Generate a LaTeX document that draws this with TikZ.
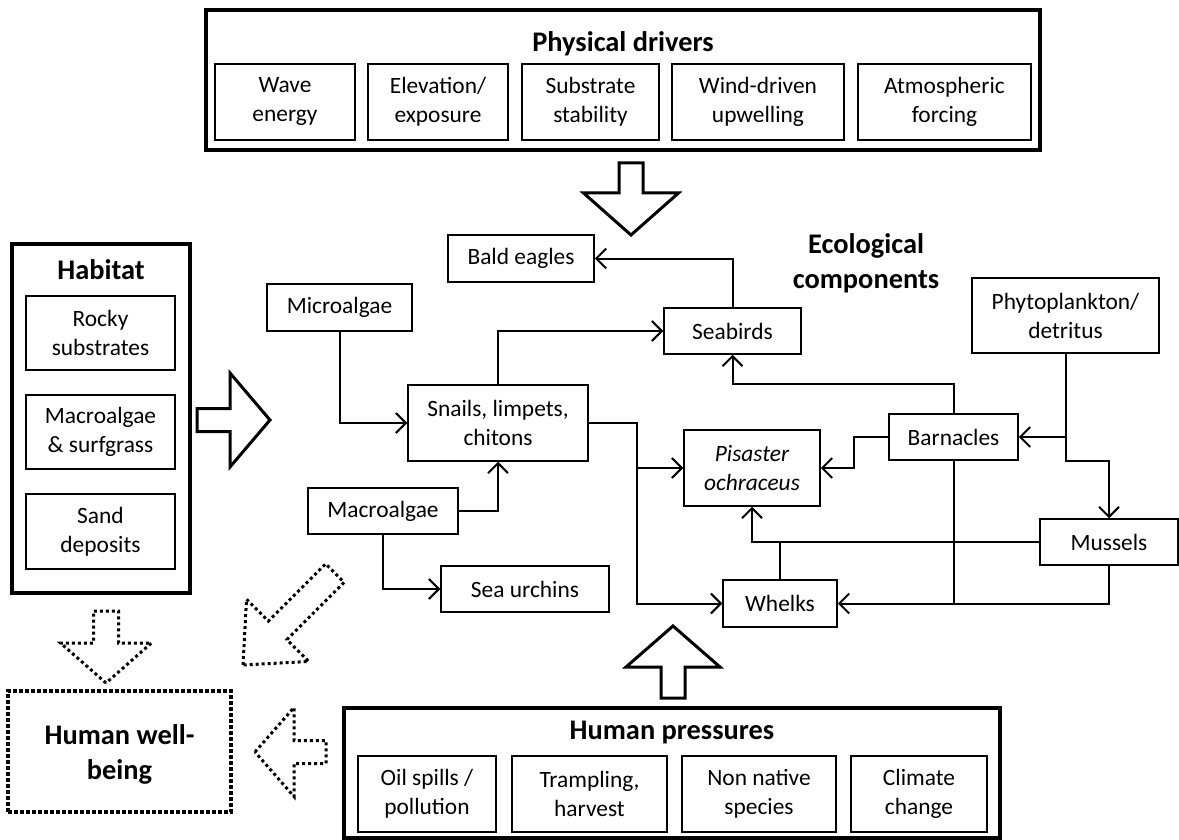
\documentclass[tikz,border=0pt]{standalone}
\usepackage{fontspec}
\setmainfont{Carlito}
\usetikzlibrary{arrows.meta}
\begin{document}
\begin{tikzpicture}[x=1pt,y=-1pt,
 box/.style={draw, line width=1.5pt, inner sep=0pt, align=center, font=\fontsize{23.4}{29}\selectfont},
 frame/.style={draw, line width=4.5pt, inner sep=0pt},
 head/.style={font=\fontsize{28.4}{35}\selectfont\bfseries, align=center, inner sep=0pt},
 link/.style={line width=2pt, -{Straight Barb[length=10pt,width=20pt,line width=2pt]}},
 plain/.style={line width=2pt},
 fat/.style={line width=3pt, line join=miter},
 dotfat/.style={line width=3pt, line join=miter, dash pattern=on 3pt off 3pt},
]
\useasboundingbox (0,0) rectangle (1179,840);

% Physical drivers
\node[frame, minimum width=834pt, minimum height=140pt] (phys) at (623,80) {};
\node[head] (physt) at (623,44) {Physical drivers};
\node[box, minimum width=140pt, minimum height=76pt] (wave) at (285,102) {Wave\\energy};
\node[box, minimum width=140pt, minimum height=76pt] (elev) at (438,102) {Elevation/\\exposure};
\node[box, minimum width=137pt, minimum height=76pt] (subs) at (590.5,102) {Substrate\\stability};
\node[box, minimum width=172pt, minimum height=76pt] (wind) at (758,102) {Wind-driven\\upwelling};
\node[box, minimum width=173pt, minimum height=76pt] (atmo) at (944.5,102) {Atmospheric\\forcing};

% Habitat
\node[frame, minimum width=178pt, minimum height=349pt] (hab) at (101,418.5) {};
\node[head] (habt) at (101,270) {Habitat};
\node[box, minimum width=149pt, minimum height=74pt] (rocky) at (100.5,333) {Rocky\\substrates};
\node[box, minimum width=149pt, minimum height=74pt] (msurf) at (100.5,432) {Macroalgae\\\& surfgrass};
\node[box, minimum width=149pt, minimum height=75pt] (sand) at (100.5,531.5) {Sand\\deposits};

% Human well-being
\node[draw, line width=4pt, dash pattern=on 4pt off 2pt, minimum width=223pt, minimum height=121pt, inner sep=0pt] (hwb) at (119.5,751.5) {};
\node[head] (hwbt) at (119.5,754) {Human well-\\being};

% Human pressures
\node[frame, minimum width=656pt, minimum height=130pt] (hp) at (672,773) {};
\node[head] (hpt) at (672,733) {Human pressures};
\node[box, minimum width=138pt, minimum height=76pt] (oil) at (427,794) {Oil spills /\\pollution};
\node[box, minimum width=155pt, minimum height=76pt] (tram) at (589.5,794) {Trampling,\\harvest};
\node[box, minimum width=154pt, minimum height=76pt] (nonn) at (759,794) {Non native\\species};
\node[box, minimum width=136pt, minimum height=76pt] (clim) at (919,794) {Climate\\change};

% Ecological components
\node[head] (ecot) at (866,263) {Ecological\\components};
\node[box, minimum width=146pt, minimum height=47pt] (bald) at (521,258.5) {Bald eagles};
\node[box, minimum width=137pt, minimum height=46pt] (seab) at (732.5,331) {Seabirds};
\node[box, minimum width=145pt, minimum height=47pt] (micro) at (339.5,307.5) {Microalgae};
\node[box, minimum width=180pt, minimum height=76pt] (snail) at (498,423) {Snails, limpets,\\chitons};
\node[box, minimum width=150pt, minimum height=46pt] (macro) at (383,511) {Macroalgae};
\node[box, minimum width=168pt, minimum height=46pt] (urch) at (525,589) {Sea urchins};
\node[box, minimum width=136pt, minimum height=76pt, font=\fontsize{23.4}{29}\selectfont\itshape] (pis) at (752,468) {Pisaster\\ochraceus};
\node[box, minimum width=129pt, minimum height=46pt] (barn) at (953.5,437) {Barnacles};
\node[box, minimum width=114pt, minimum height=47pt] (whelk) at (780,603.5) {Whelks};
\node[box, minimum width=138pt, minimum height=46pt] (muss) at (1109,542) {Mussels};
\node[box, minimum width=187pt, minimum height=75pt] (phyto) at (1065.5,315.5) {Phytoplankton/\\detritus};

\coordinate (sx) at (637,0);
\coordinate (bx) at (854,0);
\coordinate (by) at (0,384);
\coordinate (py) at (0,461);

% Connectors
\draw[link] (seab.north) |- (bald.east);
\draw[link] (snail.north) |- (seab.west);
\draw[link] (micro.south) |- (snail.west);
\draw[link] (macro.east) -| (snail.south);
\draw[link] (macro.south) |- (urch.west);
\draw[link] (snail.east) -| (sx |- pis.west) -- (pis.west);
\draw[link] (sx |- snail.east) |- (whelk.west);
\draw[link] (barn.west) -| (bx |- pis.east) -- (pis.east);
\draw[link] (barn.north) -- (barn.north |- by) -| (seab.south);
\draw[plain] (barn.south) -- (barn.south |- whelk.east);
\draw[link] (muss.south) |- (whelk.east);
\draw[link] (muss.west) -| (pis.south);
\draw[plain] (whelk.north) -- (whelk.north |- muss.west);
\draw[link] (phyto.south) |- (barn.east);
\draw[link] (phyto.south) -- (phyto.south |- py) -| (muss.north);

% Fat arrows
\draw[fat, shift={(270,420)}, rotate=0] (0,0) -- (-40,47) -- (-40,11.5) -- (-73,11.5) -- (-73,-11.5) -- (-40,-11.5) -- (-40,-47) -- cycle;
\draw[fat, shift={(631,235)}, rotate=-90] (0,0) -- (-42,47.5) -- (-42,12) -- (-72,12) -- (-72,-12) -- (-42,-12) -- (-42,-47.5) -- cycle;
\draw[fat, shift={(673,626)}, rotate=90] (0,0) -- (-41,47) -- (-41,12) -- (-72,12) -- (-72,-12) -- (-41,-12) -- (-41,-47) -- cycle;
\draw[dotfat, shift={(106,683)}, rotate=-90] (0,0) -- (-40,45.5) -- (-40,12.5) -- (-72,12.5) -- (-72,-12.5) -- (-40,-12.5) -- (-40,-45.5) -- cycle;
\draw[dotfat, shift={(255,752)}, rotate=180] (0,0) -- (-39,44.5) -- (-39,11.5) -- (-71,11.5) -- (-71,-11.5) -- (-39,-11.5) -- (-39,-44.5) -- cycle;
\draw[dotfat, shift={(243,665)}, rotate=-135] (0,0) -- (-49,44) -- (-49,13) -- (-130,13) -- (-130,-13) -- (-49,-13) -- (-49,-44) -- cycle;
\end{tikzpicture}
\end{document}
